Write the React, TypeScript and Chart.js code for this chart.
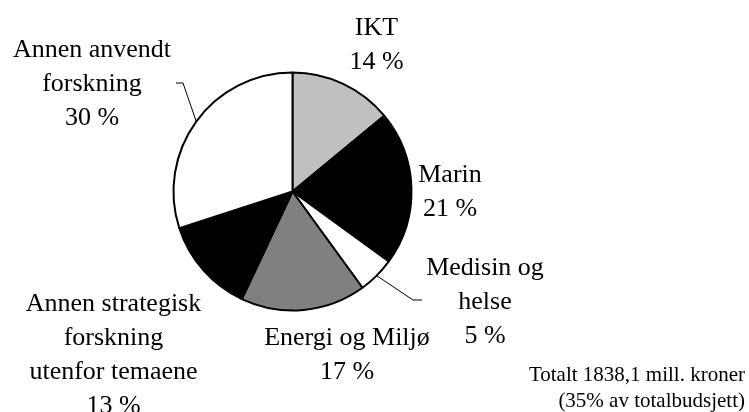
import React, { useEffect, useRef } from "react";
import { Chart, registerables } from "chart.js";

Chart.register(...registerables);

// ---- Data ----
const categories = [
  "IKT",
  "Marin",
  "Medisin og helse",
  "Energi og Miljø",
  "Annen strategisk forskning utenfor temaene",
  "Annen anvendt forskning",
];
const shares = [14, 21, 5, 17, 13, 30];
const labelLines = [
  ["IKT"],
  ["Marin"],
  ["Medisin og", "helse"],
  ["Energi og Miljø"],
  ["Annen strategisk", "forskning", "utenfor temaene"],
  ["Annen anvendt", "forskning"],
];
const footerLines = ["Totalt 1838,1 mill. kroner", "(35% av totalbudsjett)"];

// ---- Styles / layout ----
const sliceColors = ["#c0c0c0", "#000000", "#ffffff", "#808080", "#000000", "#ffffff"];
// label anchor: centre x, first baseline y
const labelAnchors = [
  [376.5, 35],
  [450, 182],
  [485, 275],
  [347, 345],
  [113.5, 311],
  [92, 57],
];
// leader lines: [elbow x, elbow y, end x] or null
const leaders: (number[] | null)[] = [null, null, [413, 300, 422], null, null, [183, 83, 176]];

const FONT = '26px "Liberation Serif", "Times New Roman", serif';
const FOOT_FONT = '21px "Liberation Serif", "Times New Roman", serif';

const labelPlugin = {
  id: "pieLabels",
  afterDraw(chart: any) {
    const ctx = chart.ctx;
    const meta = chart.getDatasetMeta(0);
    ctx.save();
    // leader lines
    ctx.strokeStyle = "#000";
    ctx.lineWidth = 1;
    meta.data.forEach((arc: any, i: number) => {
      const l = leaders[i];
      if (!l) return;
      const mid = (arc.startAngle + arc.endAngle) / 2;
      const sx = arc.x + Math.cos(mid) * arc.outerRadius;
      const sy = arc.y + Math.sin(mid) * arc.outerRadius;
      ctx.beginPath();
      ctx.moveTo(sx, sy);
      ctx.lineTo(l[0], l[1]);
      ctx.lineTo(l[2], l[1]);
      ctx.stroke();
    });
    // labels
    ctx.fillStyle = "#000";
    ctx.font = FONT;
    ctx.textAlign = "center";
    ctx.textBaseline = "alphabetic";
    const lh = 34;
    labelLines.forEach((lines, i) => {
      const [x, y] = labelAnchors[i];
      const all = [...lines, `${shares[i]} %`];
      all.forEach((t, j) => ctx.fillText(t, x, y + j * lh));
    });
    // footer
    ctx.font = FOOT_FONT;
    ctx.textAlign = "right";
    footerLines.forEach((t, j) => ctx.fillText(t, 745, 381 + j * 26));
    ctx.restore();
  },
};

export default function App() {
  const ref = useRef<HTMLCanvasElement>(null);
  useEffect(() => {
    if (!ref.current) return;
    const chart = new Chart(ref.current, {
      type: "pie",
      data: {
        labels: categories,
        datasets: [
          {
            data: shares,
            backgroundColor: sliceColors,
            borderColor: "#000000",
            borderWidth: 2,
            hoverOffset: 0,
            radius: 119,
          } as any,
        ],
      },
      options: {
        animation: false,
        responsive: false,
        maintainAspectRatio: false,
        events: [],
        layout: { padding: { left: 167.5, right: 331.5, top: 66.5, bottom: 95.5 } },
        plugins: {
          legend: { display: false },
          title: { display: false },
          tooltip: { enabled: false },
        },
      },
      plugins: [labelPlugin],
    });
    return () => chart.destroy();
  }, []);
  return (
    <div style={{ position: "fixed", left: 0, top: 0, width: 749, height: 412, background: "#fff" }}>
      <canvas ref={ref} width={749} height={412} style={{ width: 749, height: 412, display: "block" }} />
    </div>
  );
}
